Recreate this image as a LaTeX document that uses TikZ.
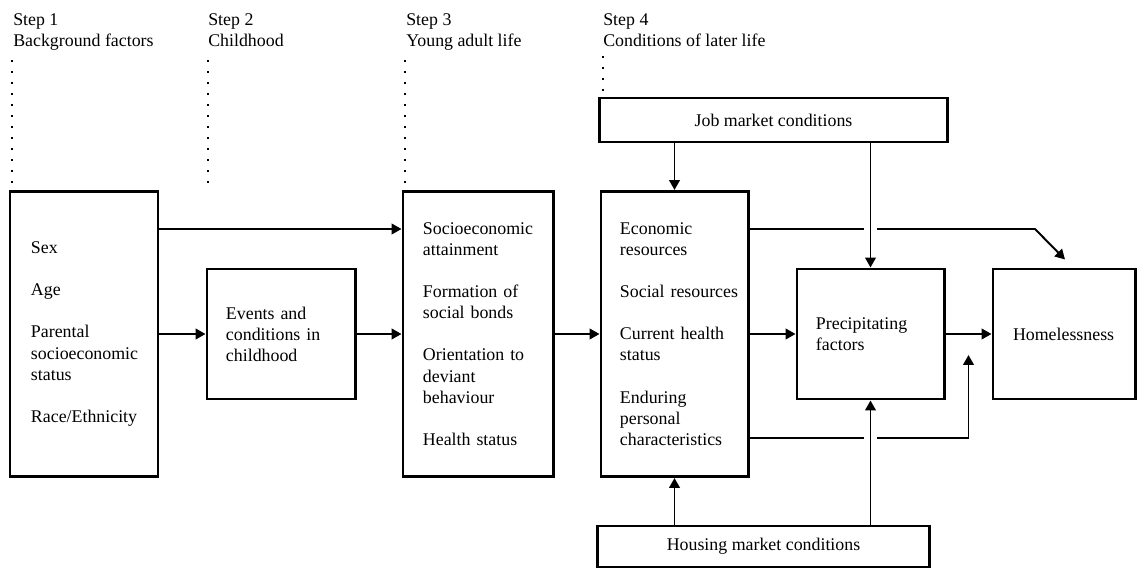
\documentclass[tikz,border=0pt]{standalone}
\usepackage{fontspec}
\setmainfont{Liberation Serif}
\usepackage{tikz}
\usetikzlibrary{arrows.meta,backgrounds,calc}
\hyphenpenalty=10000

\begin{document}
\begin{tikzpicture}[x=0.025cm, y=-0.025cm,
  font=\fontsize{12.7}{15}\selectfont,
  box/.style={draw, line width=2.1pt, align=left, inner ysep=0pt},
  arr/.style={line width=1.4pt, -{Triangle[length=7pt,width=7.5pt]}},
  hop/.style={preaction={draw=white, line width=9pt, -}},
  guide/.style={line width=1.4pt, dash pattern=on 1.1pt off 6.72pt},
  steplabel/.style={anchor=north west, inner sep=0pt, align=left}]
  \useasboundingbox (0,0) rectangle (1137,569);

  % steps along the top
  \node[steplabel] (s1) at (13,13) {Step 1\\Background factors};
  \node[steplabel] (s2) at (208,13) {Step 2\\Childhood};
  \node[steplabel] (s3) at (406,13) {Step 3\\Young adult life};
  \node[steplabel] (s4) at (603,13) {Step 4\\Conditions of later life};
  \foreach \x in {12,208,405}
    \draw[guide] (\x,60.5) -- (\x,183);
  \draw[guide] (603,56.5) -- (603,91);

  % boxes
  \node[box, minimum height=7.125cm, text width=2.65cm, inner xsep=0.525cm] (bg) at (84,334)
    {Sex\\[15pt]Age\\[15pt]Parental\\socioeconomic\\status\\[15pt]Race/Ethnicity};
  \node[box, minimum height=3.25cm, text width=2.75cm, inner xsep=0.475cm] (child) at (281,334)
    {Events and\\conditions in\\childhood};
  \node[box, minimum height=7.125cm, text width=2.75cm, inner xsep=0.5cm] (young) at (478,334)
    {Socioeconomic\\attainment\\[15pt]Formation of\\social bonds\\[15pt]Orientation to\\deviant\\behaviour\\[15pt]Health status};
  \node[box, minimum height=7.125cm, text width=2.725cm, inner xsep=0.475cm] (later) at (674.5,334)
    {Economic\\resources\\[15pt]Social~resources\\[15pt]Current health\\status\\[15pt]Enduring\\personal\\characteristics};
  \node[box, minimum height=3.25cm, text width=2.725cm, inner xsep=0.475cm] (precip) at (870.5,334)
    {Precipitating\\factors};
  \node[box, minimum height=3.25cm, text width=2.55cm, inner xsep=0.5cm] (homeless) at (1064,334)
    {Homelessness};
  \node[box, align=center, minimum width=8.675cm, minimum height=1.1cm] (job) at (773.5,120)
    {Job market conditions};
  \node[box, align=center, minimum width=8.275cm, minimum height=1.025cm] (housing) at (763.5,546.5)
    {Housing market conditions};

  % connectors
  \begin{scope}[on background layer]
  \coordinate (upper) at (0,229);
  \coordinate (lower) at (0,438);
  \coordinate (econbend) at (1035,229);
  \coordinate (econtip) at ($(homeless.north)+(1,-8)$);
  \coordinate (meet) at ($(precip.east)!.5!(homeless.west)+(0,21)$);
  \path[arr]
    (bg) edge (child)
    (child) edge (young)
    (young) edge (later)
    (later) edge (precip)
    (precip) edge (homeless)
    (bg.east |- upper) edge (young.west |- upper)
    (job.south -| later) edge (later.north)
    (housing.north -| later) edge (later.south);
  \draw[arr] (later.east |- upper) -- (econbend) -- (econtip);
  \draw[arr] (later.east |- lower) -| (meet);
  \draw[arr, hop] (job.south -| precip) -- (precip.north);
  \draw[arr, hop] (housing.north -| precip) -- (precip.south);
  \end{scope}
\end{tikzpicture}
\end{document}
